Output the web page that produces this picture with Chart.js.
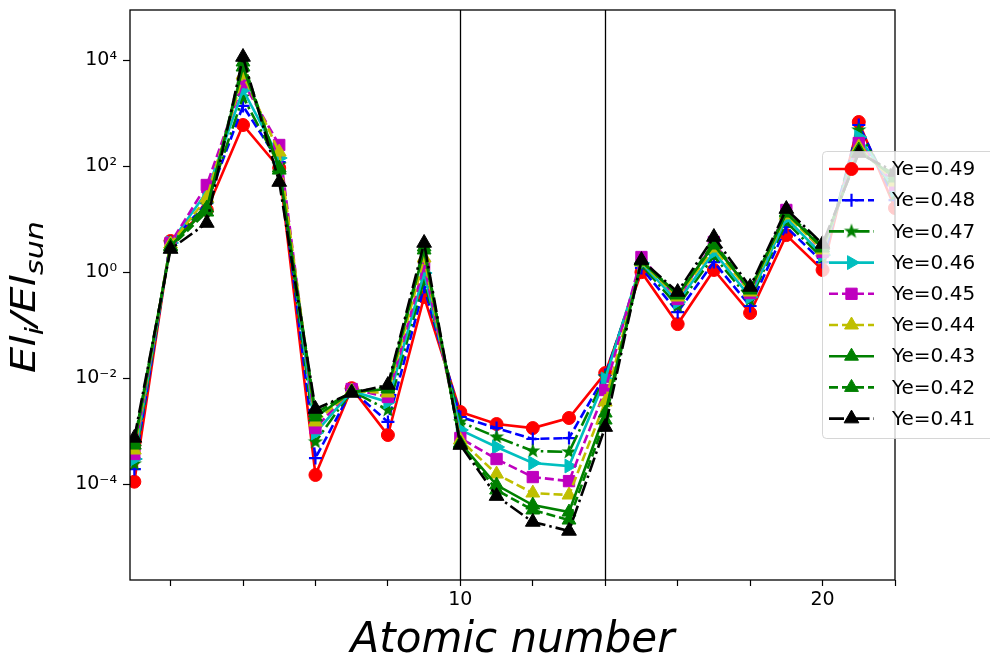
<!DOCTYPE html>
<html>
<head>
<meta charset="utf-8">
<script src="https://cdn.jsdelivr.net/npm/chart.js@4.4.1/dist/chart.umd.min.js"></script>
<style>
  html, body { margin: 0; padding: 0; background: #fff; }
  #wrap { width: 990px; height: 665px; }
</style>
</head>
<body>
<div id="wrap"><canvas id="chart" width="990" height="665"></canvas></div>
<script>
// atomic numbers on the x axis
const atomicNumbers = [1, 2, 3, 4, 5, 6, 7, 8, 9, 10, 11, 12, 13, 14, 15, 16, 17, 18, 19, 20, 21, 22];

// El_i / El_sun, one array per Ye
const ye049 = [1.12e-4, 3.87, 14.9, 595, 92, 1.5e-4, 6.5e-3, 8.5e-4, 0.34, 2.31e-3, 1.37e-3, 1.15e-3, 1.78e-3, 1.25e-2, 1.0, 0.105, 1.1, 0.17, 5.0, 1.1, 678, 16.2];
const ye048 = [1.94e-4, 3.7, 20.1, 1360, 119, 3.13e-4, 6.0e-3, 1.5e-3, 0.525, 1.86e-3, 1.15e-3, 7.15e-4, 7.46e-4, 1.15e-2, 1.2, 0.177, 1.55, 0.23, 7.1, 1.55, 595, 22.9];
const ye047 = [2.42e-4, 3.55, 18.5, 2010, 105, 6.3e-4, 5.74e-3, 2.52e-3, 0.711, 1.5e-3, 7.8e-4, 4.25e-4, 4.07e-4, 1.05e-2, 1.36, 0.23, 2.02, 0.3, 8.8, 1.85, 479, 28.5];
const ye046 = [3.0e-4, 3.55, 32.5, 2720, 142, 9.3e-4, 5.74e-3, 3.56e-3, 0.964, 1.06e-3, 5.05e-4, 2.52e-4, 2.21e-4, 9.7e-3, 1.49, 0.274, 2.4, 0.34, 10.5, 2.1, 353, 35.4];
const ye045 = [3.73e-4, 3.55, 44, 3850, 250, 1.15e-3, 6.26e-3, 4.43e-3, 1.36, 7.46e-4, 3.0e-4, 1.37e-4, 1.15e-4, 6.0e-3, 1.93, 0.312, 3.7, 0.404, 14.9, 2.4, 272, 44];
const ye044 = [4.43e-4, 3.4, 25, 5210, 184, 1.5e-3, 5.74e-3, 5.27e-3, 1.85, 6.85e-4, 1.56e-4, 6.85e-5, 6.28e-5, 3.56e-3, 1.55, 0.34, 2.85, 0.422, 12.0, 2.62, 229, 50];
const ye043 = [5.5e-4, 3.11, 16.2, 7380, 92, 1.86e-3, 5.5e-3, 6.26e-3, 2.62, 6.0e-4, 9.7e-5, 4.07e-5, 3.0e-5, 2.21e-3, 1.62, 0.371, 3.25, 0.46, 13.0, 2.85, 201, 59.6];
const ye042 = [6.3e-4, 2.98, 13.6, 9170, 84, 2.21e-3, 5.5e-3, 6.84e-3, 2.98, 5.75e-4, 7.8e-5, 3.28e-5, 2.12e-5, 1.63e-3, 1.62, 0.387, 3.55, 0.48, 13.6, 3.11, 184, 67.9];
const ye041 = [7.5e-4, 2.73, 8.45, 11400, 50, 2.63e-3, 5.27e-3, 7.45e-3, 3.55, 5.5e-4, 6.0e-5, 1.95e-5, 1.32e-5, 1.2e-3, 1.69, 0.422, 4.6, 0.525, 15.5, 3.4, 176, 77.3];

const seriesLabels = ['Ye=0.49', 'Ye=0.48', 'Ye=0.47', 'Ye=0.46', 'Ye=0.45', 'Ye=0.44', 'Ye=0.43', 'Ye=0.42', 'Ye=0.41'];
const seriesValues = [ye049, ye048, ye047, ye046, ye045, ye044, ye043, ye042, ye041];

const xTicks = [2, 4, 6, 8, 10, 12, 14, 16, 18, 20, 22];
const xTickLabels = { 10: '10', 20: '20' };
const yTicks = [1e-4, 1e-2, 1, 1e2, 1e4];
const vLines = [10, 14];

// matplotlib-like colours
const RED = '#ff0000', BLUE = '#0000ff', GREEN = '#008000', CYAN = '#00bfbf',
      MAGENTA = '#bf00bf', OLIVE = '#bfbf00', BLACK = '#000000';
const SOLID = [], DASHED = [9, 4], DASHDOT = [15, 4, 2.5, 4];

function makeStar(color, r) {
    const c = document.createElement('canvas');
    c.width = c.height = Math.ceil(r * 2 + 2);
    const g = c.getContext('2d');
    const cx = c.width / 2, cy = c.height / 2;
    g.beginPath();
    for (let i = 0; i < 10; i++) {
        const rad = (i % 2 === 0) ? r : r * 0.4;
        const a = -Math.PI / 2 + i * Math.PI / 5;
        const px = cx + rad * Math.cos(a), py = cy + rad * Math.sin(a);
        if (i === 0) g.moveTo(px, py); else g.lineTo(px, py);
    }
    g.closePath();
    g.fillStyle = color;
    g.fill();
    return c;
}

const styles = [
    { color: RED, dash: SOLID, pointStyle: 'circle', radius: 6.5, rotation: 0, pbw: 1 },
    { color: BLUE, dash: DASHED, pointStyle: 'cross', radius: 6.5, rotation: 0, pbw: 2.2 },
    { color: GREEN, dash: DASHDOT, pointStyle: makeStar(GREEN, 8), radius: 7, rotation: 0, pbw: 0 },
    { color: CYAN, dash: SOLID, pointStyle: 'triangle', radius: 8, rotation: 90, pbw: 1 },
    { color: MAGENTA, dash: DASHED, pointStyle: 'rect', radius: 8, rotation: 0, pbw: 1 },
    { color: OLIVE, dash: DASHED, pointStyle: 'triangle', radius: 8, rotation: 0, pbw: 1 },
    { color: GREEN, dash: SOLID, pointStyle: 'triangle', radius: 8, rotation: 0, pbw: 1 },
    { color: GREEN, dash: DASHED, pointStyle: 'triangle', radius: 8, rotation: 0, pbw: 1 },
    { color: BLACK, dash: DASHDOT, pointStyle: 'triangle', radius: 8.5, rotation: 0, pbw: 1 }
];

const datasets = seriesValues.map((vals, i) => ({
    label: seriesLabels[i],
    data: atomicNumbers.map((z, k) => ({ x: z, y: vals[k] })),
    borderColor: styles[i].color,
    backgroundColor: styles[i].color,
    borderWidth: 2.6,
    borderDash: styles[i].dash,
    pointStyle: styles[i].pointStyle,
    pointRadius: styles[i].radius,
    pointRotation: styles[i].rotation,
    pointBackgroundColor: styles[i].color,
    pointBorderColor: styles[i].color,
    pointBorderWidth: styles[i].pbw,
    tension: 0,
    order: seriesValues.length - i
}));

const supMap = { '-': '\u207b', '0': '\u2070', '1': '\u00b9', '2': '\u00b2', '3': '\u00b3', '4': '\u2074',
                 '5': '\u2075', '6': '\u2076', '7': '\u2077', '8': '\u2078', '9': '\u2079' };
function powLabel(v) {
    const e = String(Math.round(Math.log10(v)));
    return '10' + e.split('').map(ch => supMap[ch]).join('');
}

const extras = {
    id: 'extras',
    beforeDatasetsDraw(chart) {
        const { ctx, chartArea: a, scales: { x } } = chart;
        ctx.save();
        ctx.strokeStyle = '#000';
        ctx.lineWidth = 1.3;
        vLines.forEach(v => {
            const px = Math.round(x.getPixelForValue(v)) + 0.5;
            ctx.beginPath();
            ctx.moveTo(px, a.top);
            ctx.lineTo(px, a.bottom);
            ctx.stroke();
        });
        ctx.restore();
    },
    afterDatasetsDraw(chart) {
        const { ctx, chartArea: a } = chart;
        ctx.save();
        ctx.strokeStyle = '#000';
        ctx.lineWidth = 1.3;
        ctx.strokeRect(a.left, a.top, a.right - a.left, a.bottom - a.top);
        ctx.restore();
    },
    afterDraw(chart) {
        const { ctx, chartArea: a } = chart;
        ctx.save();

        // x label
        ctx.fillStyle = '#000';
        ctx.font = 'italic 42px "DejaVu Sans"';
        ctx.textAlign = 'center';
        ctx.textBaseline = 'alphabetic';
        ctx.fillText('Atomic number', (a.left + a.right) / 2, 652);

        // y label with subscripts
        const parts = [['El', false], ['i', true], ['/El', false], ['sun', true]];
        const mainFont = 'italic 33px "DejaVu Sans"', subFont = 'italic 24px "DejaVu Sans"';
        let total = 0;
        parts.forEach(p => { ctx.font = p[1] ? subFont : mainFont; total += ctx.measureText(p[0]).width; });
        const targetLen = 152;
        ctx.translate(35, 297);
        ctx.rotate(-Math.PI / 2);
        ctx.scale(targetLen / total, 1);
        ctx.textAlign = 'left';
        let cx = -total / 2;
        parts.forEach(p => {
            ctx.font = p[1] ? subFont : mainFont;
            ctx.fillText(p[0], cx, p[1] ? 8 : 0);
            cx += ctx.measureText(p[0]).width;
        });
        ctx.restore();

        // legend (partly outside the axes, as in the reference)
        ctx.save();
        const bx = 822.5, by = 151.5, bw = 200, bh = 287;
        ctx.beginPath();
        ctx.roundRect(bx, by, bw, bh, 4);
        ctx.fillStyle = 'rgba(255,255,255,0.8)';
        ctx.fill();
        ctx.strokeStyle = 'rgba(204,204,204,0.8)';
        ctx.lineWidth = 1;
        ctx.stroke();
        ctx.font = '20px "DejaVu Sans"';
        ctx.textBaseline = 'middle';
        ctx.textAlign = 'left';
        seriesLabels.forEach((lab, i) => {
            const st = styles[i];
            const y = 169 + i * 31.2;
            ctx.strokeStyle = st.color;
            ctx.fillStyle = st.color;
            ctx.lineWidth = 2.6;
            ctx.setLineDash(st.dash);
            ctx.beginPath();
            ctx.moveTo(829, y);
            ctx.lineTo(874, y);
            ctx.stroke();
            ctx.setLineDash([]);
            ctx.lineWidth = st.pbw;
            Chart.helpers.drawPoint(ctx, { pointStyle: st.pointStyle, radius: st.radius, rotation: st.rotation, borderWidth: st.pbw }, 851.5, y);
            ctx.fillStyle = '#000';
            ctx.fillText(lab, 892, y + 1);
        });
        ctx.restore();
    }
};

new Chart(document.getElementById('chart').getContext('2d'), {
    type: 'line',
    data: { datasets },
    options: {
        responsive: false,
        animation: false,
        events: [],
        layout: { padding: { left: 0, right: 95, top: 10, bottom: 0 } },
        plugins: { legend: { display: false }, tooltip: { enabled: false } },
        scales: {
            x: {
                type: 'linear',
                min: 0.88,
                max: 22,
                bounds: 'data',
                afterBuildTicks: s => { s.ticks = xTicks.map(v => ({ value: v })); },
                afterFit: s => { s.height = 85; s.paddingLeft = 0; s.paddingRight = 0; },
                grid: { display: true, drawOnChartArea: false, drawTicks: true, tickLength: 6, tickColor: '#000', tickWidth: 1.2 },
                border: { display: false },
                ticks: {
                    autoSkip: false, maxRotation: 0, padding: 3, color: '#000',
                    font: { family: 'DejaVu Sans', size: 19 },
                    callback: v => xTickLabels[v] || ''
                }
            },
            y: {
                type: 'logarithmic',
                min: 1.57e-6,
                max: 8.77e4,
                bounds: 'data',
                afterBuildTicks: s => { s.ticks = yTicks.map(v => ({ value: v })); },
                afterFit: s => { s.width = 130; s.paddingTop = 0; s.paddingBottom = 0; },
                grid: { display: true, drawOnChartArea: false, drawTicks: true, tickLength: 7, tickColor: '#000', tickWidth: 1.2 },
                border: { display: false },
                ticks: {
                    autoSkip: false, padding: 6, color: '#000',
                    font: { family: 'DejaVu Sans', size: 19 },
                    callback: v => powLabel(v)
                }
            }
        }
    },
    plugins: [extras]
});
</script>
</body>
</html>
